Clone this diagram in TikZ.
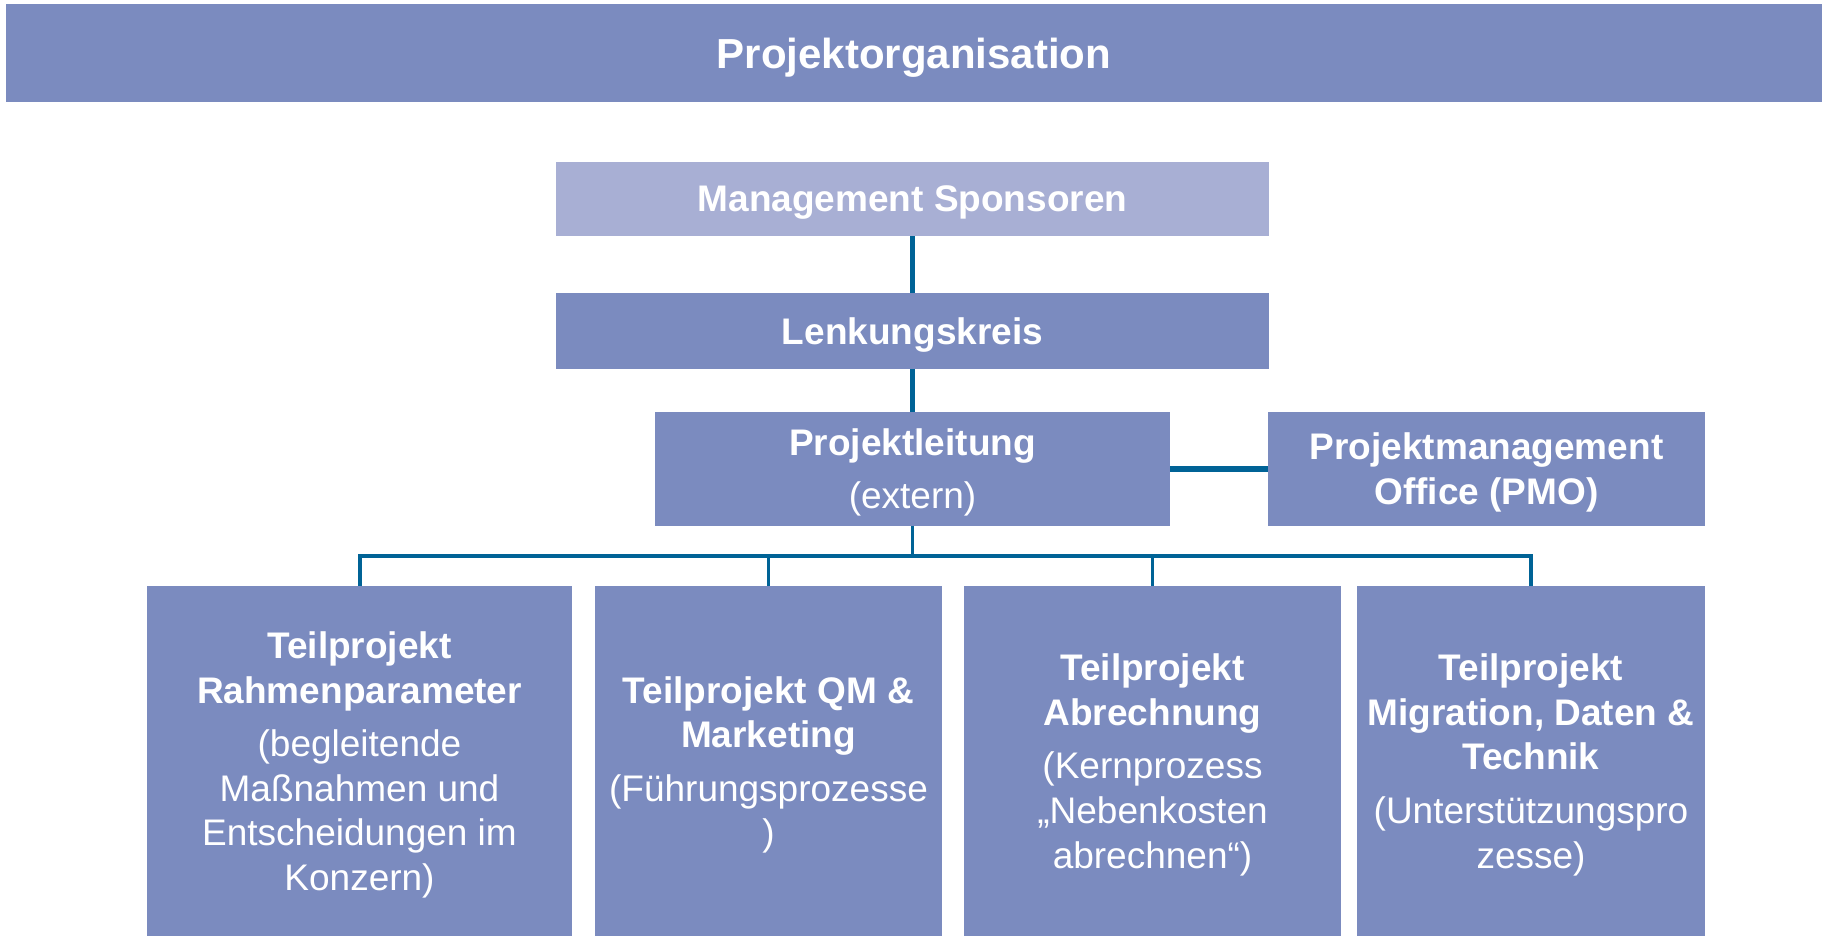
\documentclass[tikz,border=0pt]{standalone}
\usepackage{fontspec}
\setmainfont{Liberation Sans}
\usetikzlibrary{calc}
\definecolor{myblue}{RGB}{123,139,191}
\definecolor{mylight}{RGB}{168,175,212}
\definecolor{myline}{RGB}{0,99,150}
\tikzset{box/.style={fill=myblue, text=white, align=center, inner sep=0pt, text depth=0pt,
    font=\fontsize{18.5pt}{22.3pt}\selectfont},
  conn/.style={draw=myline, line width=2pt}}

\begin{document}
\begin{tikzpicture}[x=0.5pt, y=-0.5pt]
\useasboundingbox (0,0) rectangle (1825,937);
% title bar
\node[box, minimum width=908pt, minimum height=49pt, font=\fontsize{21pt}{25pt}\selectfont\bfseries] (title) at (914,53) {Projektorganisation};
% upper levels
\node[box, fill=mylight, minimum width=356.5pt, minimum height=37pt] (ms) at (912.5,199) {\textbf{Management Sponsoren}};
\node[box, minimum width=356.5pt, minimum height=38pt] (lk) at (912.5,331) {\textbf{Lenkungskreis}};
\node[box, minimum width=257.5pt, minimum height=56.75pt] (pl) at (912.5,468.75) {\textbf{Projektleitung}\\[4.5pt](extern)};
\node[box, minimum width=218.5pt, minimum height=56.75pt] (pmo) at (1486.5,468.75) {\textbf{Projektmanagement}\\\textbf{Office (PMO)}};
% sub-projects
\node[box, minimum width=212.5pt, minimum height=175pt] (tp1) at (359.5,761) {\textbf{Teilprojekt}\\\textbf{Rahmenparameter}\\[4.5pt](begleitende\\Maßnahmen und\\Entscheidungen im\\Konzern)};
\node[box, minimum width=173.5pt, minimum height=175pt] (tp2) at (768.5,761) {\textbf{Teilprojekt QM \&}\\\textbf{Marketing}\\[4.5pt](Führungsprozesse\\)};
\node[box, minimum width=188.5pt, minimum height=175pt] (tp3) at (1152.5,761) {\textbf{Teilprojekt}\\\textbf{Abrechnung}\\[4.5pt](Kernprozess\\„Nebenkosten\\abrechnen“)};
\node[box, minimum width=174pt, minimum height=175pt] (tp4) at (1531,761) {\textbf{Teilprojekt}\\\textbf{Migration, Daten \&}\\\textbf{Technik}\\[4.5pt](Unterstützungspro\\zesse)};
% connectors
\draw[conn, line width=2.5pt] (ms) -- (lk);
\draw[conn, line width=2.5pt] (lk) -- (pl);
\draw[conn, line width=3pt] (pl) -- (pmo);
\coordinate (bus) at (912.5,556);
\draw[conn, line width=1.5pt] (pl) -- (bus);
\draw[conn] (tp1.north) |- (bus) -| (tp4.north);
\draw[conn, line width=1.5pt] (tp2.north) -- (tp2.north |- bus);
\draw[conn, line width=1.5pt] (tp3.north) -- (tp3.north |- bus);
\end{tikzpicture}
\end{document}
